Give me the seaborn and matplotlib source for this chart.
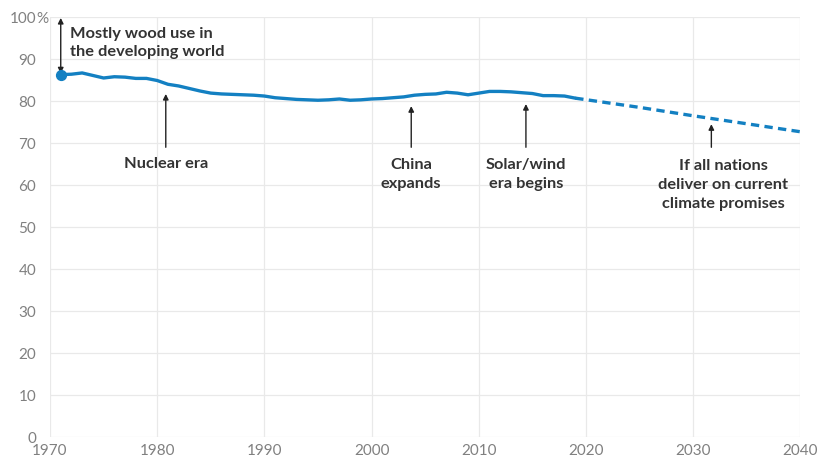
import matplotlib
matplotlib.use("Agg")
import matplotlib.pyplot as plt
import seaborn as sns
import pandas as pd

years = list(range(1971, 2020))
share = [86.3, 86.4, 86.7, 86.1, 85.5, 85.8, 85.7, 85.4, 85.4, 84.9,
         84.0, 83.6, 83.0, 82.4, 81.9, 81.7, 81.6, 81.5, 81.4, 81.2,
         80.8, 80.6, 80.4, 80.3, 80.2, 80.3, 80.5, 80.2, 80.3, 80.5,
         80.6, 80.8, 81.0, 81.4, 81.6, 81.7, 82.1, 81.9, 81.5, 81.9,
         82.3, 82.3, 82.2, 82.0, 81.8, 81.3, 81.3, 81.2, 80.7]
proj_years = [2019, 2025, 2030, 2035, 2040]
proj_share = [80.7, 78.5, 76.5, 74.6, 72.7]

x_ticks = [1970, 1980, 1990, 2000, 2010, 2020, 2030, 2040]
y_ticks = [0, 10, 20, 30, 40, 50, 60, 70, 80, 90, 100]
y_labels = ["0", "10", "20", "30", "40", "50", "60", "70", "80", "90", "100"]

hist = pd.DataFrame({"year": years, "share": share})
proj = pd.DataFrame({"year": proj_years, "share": proj_share})

sns.set_theme(style="white")
plt.rcParams['font.family'] = ['Lato', 'DejaVu Sans']

BLUE = "#1380c2"
TXT = "#333333"
TICK = "#808080"

fig = plt.figure(figsize=(8.2, 4.62), dpi=100)
ax = fig.add_axes([0.061, 0.054, 0.915, 0.909])

sns.lineplot(data=hist, x="year", y="share", ax=ax, color=BLUE, linewidth=2.4)
sns.lineplot(data=proj, x="year", y="share", ax=ax, color=BLUE, linewidth=2.4,
             linestyle=(0, (2.5, 1.6)))
ax.scatter([years[0]], [share[0]], s=50, color=BLUE, zorder=5, clip_on=False)

ax.set_xlim(1970, 2040)
ax.set_ylim(0, 100)
ax.set_xticks(x_ticks)
ax.set_xticklabels([str(t) for t in x_ticks])
ax.set_yticks(y_ticks)
ax.set_yticklabels(y_labels)
ax.set_xlabel("")
ax.set_ylabel("")
ax.grid(True, color="#e9e9e9", linewidth=0.9)
ax.set_axisbelow(True)
for s in ax.spines.values():
    s.set_visible(False)
ax.tick_params(axis="both", length=0, labelsize=11, labelcolor=TICK)
ax.tick_params(axis="x", pad=5)
ax.tick_params(axis="y", pad=10)
ax.annotate("%", xy=(0, 100), xycoords=("axes fraction", "data"),
            xytext=(-10, 0), textcoords="offset points", ha="left",
            va="center_baseline", fontsize=11, color=TICK)

arrow = dict(arrowstyle="-|>", color="#222222", lw=1.0, mutation_scale=8,
             shrinkA=0, shrinkB=0)
darrow = dict(arrowstyle="<|-|>", color="#222222", lw=1.0, mutation_scale=8,
              shrinkA=0, shrinkB=0)

fs = 11.8
W = "bold"
LS = 1.42
ax.annotate("", xy=(1971, 99.8), xytext=(1971, 86.6), arrowprops=darrow)
ax.text(1971.9, 93.8, "Mostly wood use in\nthe developing world", fontsize=fs,
        color=TXT, fontweight=W, va="center", ha="left", linespacing=LS)

ax.annotate("", xy=(1980.8, 81.7), xytext=(1980.8, 69.0), arrowprops=arrow)
ax.text(1980.8, 65.0, "Nuclear era", fontsize=fs, color=TXT, fontweight=W,
        ha="center", va="center")

ax.annotate("", xy=(2003.7, 78.8), xytext=(2003.7, 69.0), arrowprops=arrow)
ax.text(2003.7, 62.5, "China\nexpands", fontsize=fs, color=TXT, fontweight=W,
        ha="center", va="center", linespacing=LS)

ax.annotate("", xy=(2014.4, 79.3), xytext=(2014.4, 69.0), arrowprops=arrow)
ax.text(2014.4, 62.5, "Solar/wind\nera begins", fontsize=fs, color=TXT, fontweight=W,
        ha="center", va="center", linespacing=LS)

ax.annotate("", xy=(2031.7, 74.5), xytext=(2031.7, 69.0), arrowprops=arrow)
ax.text(2032.8, 60.0, "If all nations\ndeliver on current\nclimate promises", fontsize=fs,
        color=TXT, fontweight=W, ha="center", va="center", linespacing=LS)

fig.savefig("out.png", dpi=100)
